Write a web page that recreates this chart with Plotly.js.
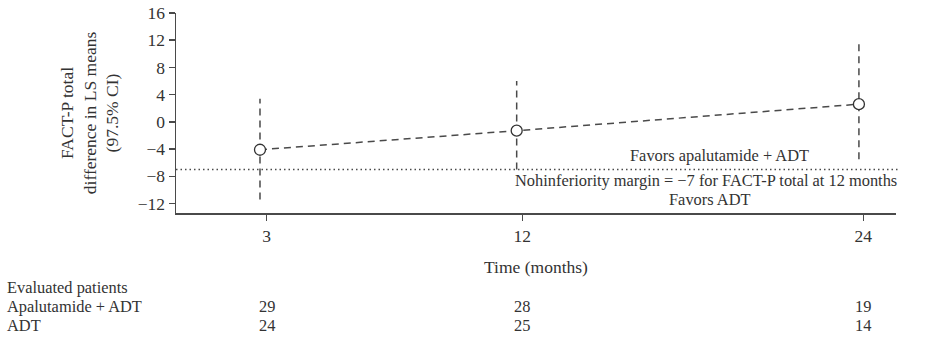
<!DOCTYPE html>
<html>
<head>
<meta charset="utf-8">
<script src="https://cdn.plot.ly/plotly-3.0.1.min.js"></script>
<style>html,body{margin:0;padding:0;background:#fff;}#chart{width:929px;height:343px;}</style>
</head>
<body>
<div id="chart"></div>
<script>
// Data
const months = [3, 12, 24];
const lsMeanDiff = [-4.1, -1.3, 2.6];
const ciLower = [-11.4, -7.0, -5.5];
const ciUpper = [3.4, 6.0, 11.4];
const margin = -7;
const tickLabels = ['3', '12', '24'];
const rowLabels = ['Evaluated patients', 'Apalutamide + ADT', 'ADT'];
const nApalutamide = [29, 28, 19];
const nADT = [24, 25, 14];

const FONT = 'Liberation Serif, Times New Roman, serif';
const FS = 17.5;   // axis text
const FA = 16.4;   // annotation text
const TXT = '#333333';
const LINE = '#4a4a4a';

// error bar segments built from CI arrays
const ebX = [], ebY = [];
months.forEach((m, i) => { ebX.push(m, m, null); ebY.push(ciLower[i], ciUpper[i], null); });

const traces = [
  {x: ebX, y: ebY, xaxis: 'x2', mode: 'lines', line: {color: LINE, width: 1.5, dash: '7px,5px'}, hoverinfo: 'skip', showlegend: false},
  {x: months, y: lsMeanDiff, xaxis: 'x2', mode: 'lines+markers',
   line: {color: LINE, width: 1.5, dash: '7px,5px'},
   marker: {symbol: 'circle', size: 11, color: '#ffffff', line: {color: '#333333', width: 1.3}},
   showlegend: false}
];

const annotations = [
  {text: 'Favors apalutamide + ADT', xref: 'paper', yref: 'paper', x: (719-176)/720, y: (213-155)/200, showarrow: false, xanchor: 'center', yanchor: 'middle'},
  {text: 'Nohinferiority margin = \u22127 for FACT-P total at 12 months', xref: 'paper', yref: 'paper', x: (706-176)/720, y: (213-180)/200, showarrow: false, xanchor: 'center', yanchor: 'middle'},
  {text: 'Favors ADT', xref: 'paper', yref: 'paper', x: (710-176)/720, y: (213-199)/200, showarrow: false, xanchor: 'center', yanchor: 'middle'}
];
const rowY = [(213-287)/200, (213-306)/200, (213-325)/200];
rowLabels.forEach((t, i) => annotations.push({text: t, xref: 'paper', yref: 'paper', x: (6-176)/720, y: rowY[i], showarrow: false, xanchor: 'left', yanchor: 'middle'}));
months.forEach((m, i) => {
  annotations.push({text: String(nApalutamide[i]), xref: 'x', yref: 'paper', x: m, y: rowY[1], showarrow: false, xanchor: 'center', yanchor: 'middle'});
  annotations.push({text: String(nADT[i]), xref: 'x', yref: 'paper', x: m, y: rowY[2], showarrow: false, xanchor: 'center', yanchor: 'middle'});
});
annotations.forEach(a => { a.font = {family: FONT, size: FA, color: TXT}; a.borderpad = 0; });

const layout = {
  width: 929, height: 343,
  margin: {l: 176, r: 33, t: 13, b: 130},
  paper_bgcolor: '#ffffff', plot_bgcolor: '#ffffff',
  font: {family: FONT, size: FS, color: TXT},
  showlegend: false,
  xaxis: {
    range: [-0.19, 25.15], tickvals: months, ticktext: tickLabels,
    showline: true, linecolor: LINE, linewidth: 1.5, ticks: 'outside', ticklen: 6, tickcolor: LINE, tickwidth: 1.5,
    showgrid: false, zeroline: false, fixedrange: true,
    title: {text: 'Time (months)', font: {family: FONT, size: FS, color: TXT}, standoff: 16}
  },
  xaxis2: {range: [0.055, 25.3], overlaying: 'x', visible: false, fixedrange: true},
  yaxis: {
    range: [-13.4, 16], tickvals: [-12, -8, -4, 0, 4, 8, 12, 16],
    showline: true, linecolor: LINE, linewidth: 1.5, ticks: 'outside', ticklen: 6, tickcolor: LINE, tickwidth: 1.5,
    showgrid: false, zeroline: false, fixedrange: true,
    title: {text: 'FACT-P total<br>difference in LS means<br>(97.5% CI)', font: {family: FONT, size: FS, color: TXT}, standoff: 14}
  },
  shapes: [
    {type: 'line', xref: 'paper', yref: 'y', x0: 0, x1: 1.003, y0: margin, y1: margin, line: {color: LINE, width: 1.5, dash: '1.5px,3px'}}
  ],
  annotations: annotations
};

Plotly.newPlot('chart', traces, layout, {staticPlot: true, displayModeBar: false});
</script>
</body>
</html>
